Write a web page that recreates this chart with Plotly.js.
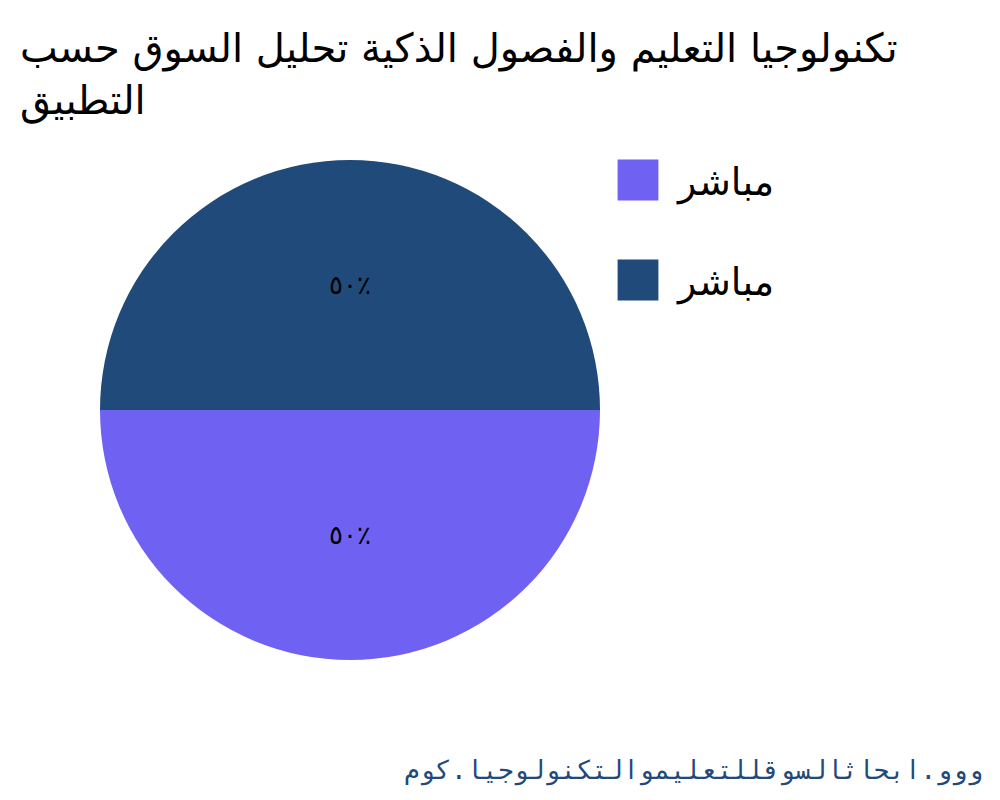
<!DOCTYPE html>
<html>
<head>
<meta charset="utf-8">
<script src="https://cdn.plot.ly/plotly-3.0.1.min.js"></script>
<style>body{margin:0;background:#fff}</style>
</head>
<body>
<div id="chart" style="width:1000px;height:800px"></div>
<script>
// data
var sliceLabels = ['مباشر', 'مباشر ']; // same word twice, trailing space keeps them apart
var sliceValues = [50, 50];
var sliceColors = ['#6F61F1', '#1F4A7A'];
var chartTitle = 'تكنولوجيا التعليم والفصول الذكية تحليل السوق حسب<br>التطبيق';
var sourceNote = 'ووو.ابحاثالسوقللتعليموالتكنولوجيا.كوم';

// percent in arabic digits, e.g. ٥٠٪
var arDigits = '٠١٢٣٤٥٦٧٨٩';
var total = sliceValues.reduce(function(a, b){ return a + b; }, 0);
var sliceText = sliceValues.map(function(v){
	var p = String(Math.round(v / total * 100));
	return p.replace(/[0-9]/g, function(d){ return arDigits[+d]; }) + '٪';
});

var data = [{
	type: 'pie',
	labels: sliceLabels,
	values: sliceValues,
	text: sliceText,
	textinfo: 'text',
	textposition: 'inside',
	insidetextorientation: 'horizontal',
	sort: false,
	direction: 'clockwise',
	rotation: 90,
	marker: {colors: sliceColors, line: {width: 0}},
	textfont: {family: 'DejaVu Sans', size: 26, color: '#000'},
	hoverinfo: 'none'
}];

var layout = {
	width: 1000,
	height: 800,
	font: {family: 'DejaVu Sans', color: '#000'},
	title: {
		text: chartTitle,
		x: 0.02, xanchor: 'left', xref: 'container',
		y: 0.922, yanchor: 'top', yref: 'container',
		font: {family: 'DejaVu Sans', size: 40, color: '#000'}
	},
	margin: {l: 100, r: 400, t: 160, b: 140},
	showlegend: true,
	legend: {
		x: 1.006, xanchor: 'left',
		y: 1, yanchor: 'top',
		font: {family: 'DejaVu Sans', size: 38, color: '#000'},
		itemwidth: 60
	},
	annotations: [{
		text: sourceNote,
		xref: 'paper', yref: 'paper',
		x: 1.77, xanchor: 'right',
		y: -0.22, yanchor: 'middle',
		showarrow: false,
		font: {family: 'DejaVu Sans Mono', size: 26, color: '#1F4A7A'}
	}],
	paper_bgcolor: '#fff'
};

var config = {displayModeBar: false, staticPlot: true};

Plotly.newPlot('chart', data, layout, config).then(function(gd){
	// big square swatches, one item every 100px like the reference
	var box = gd.querySelector('.legend .scrollbox');
	if (box) box.removeAttribute('clip-path');
	var items = gd.querySelectorAll('.legend .traces');
	items.forEach(function(g, i){
		var sw = g.querySelector('.legendpoints path');
		if (!sw) return;
		sw.setAttribute('transform', (sw.getAttribute('transform') || '') + ' scale(3.4)');
		var r = sw.getBoundingClientRect();
		var dy = (180 + i * 100) - (r.top + r.height / 2);
		var m = /translate\(\s*([-\d.]+)[ ,]+([-\d.]+)\s*\)/.exec(g.getAttribute('transform') || '');
		var tx = m ? +m[1] : 0, ty = m ? +m[2] : 0;
		g.setAttribute('transform', 'translate(' + tx + ',' + (ty + dy) + ')');
		var t = g.querySelector('text.legendtext');
		if (t) t.setAttribute('x', (+t.getAttribute('x') || 0) + 5);
	});
});
</script>
</body>
</html>
